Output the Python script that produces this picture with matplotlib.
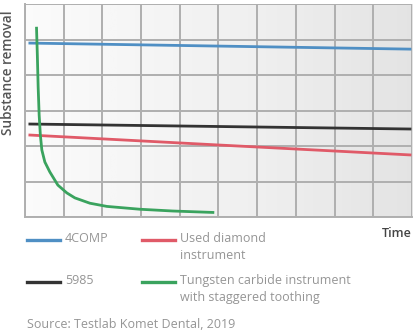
import numpy as np
import matplotlib.pyplot as plt
from matplotlib.lines import Line2D

plt.rcParams['font.family'] = ['Open Sans', 'DejaVu Sans']

# data (time in grid units 0..10, removal in grid units 0..6)
blue_x = [0.13, 9.95]
blue_y = [4.90, 4.73]
black_x = [0.13, 9.95]
black_y = [2.62, 2.48]
red_x = [0.13, 5.0, 9.95]
red_y = [2.31, 2.03, 1.75]
green_x = [0.302, 0.323, 0.344, 0.370, 0.401, 0.439, 0.517, 0.646, 0.853,
           1.085, 1.292, 1.680, 2.119, 2.972, 3.824, 4.858]
green_y = [5.32, 4.56, 3.66, 2.87, 2.31, 1.89, 1.55, 1.27, 0.90,
           0.68, 0.54, 0.39, 0.30, 0.22, 0.17, 0.13]

labels = ["4COMP", "5985", "Used diamond\ninstrument",
          "Tungsten carbide instrument\nwith staggered toothing"]
colors = ["#4f8fc4", "#333333", "#e05a68", "#3aa35e"]

fig = plt.figure(figsize=(4.14, 3.36), dpi=100)
ax = fig.add_axes([0.060, 0.354, 0.935, 0.634])

# light gradient background, white to grey
grad = np.linspace(0, 1, 256).reshape(1, -1)
ax.imshow(grad, extent=[0, 10, 0, 6], aspect='auto', cmap='Greys',
          vmin=-0.2, vmax=6, zorder=0)

ax.plot(blue_x, blue_y, color=colors[0], lw=2.0, zorder=3)
ax.plot(black_x, black_y, color=colors[1], lw=2.0, zorder=3)
ax.plot(red_x, red_y, color=colors[2], lw=2.0, zorder=3)
ax.plot(green_x, green_y, color=colors[3], lw=2.0, zorder=4,
        solid_joinstyle='round')

ax.set_xlim(0, 10)
ax.set_ylim(0, 6)
ax.set_xticks(range(11))
ax.set_yticks(range(7))
ax.grid(True, color="#afafaf", lw=1.4, zorder=1)
ax.tick_params(length=0, labelbottom=False, labelleft=False)
for s in ax.spines.values():
    s.set_visible(False)
for side in ['left', 'bottom']:
    ax.spines[side].set_visible(True)
    ax.spines[side].set_color("#afafaf")
    ax.spines[side].set_linewidth(1.4)
ax.set_axisbelow(True)

fig.text(0.020, 0.970, "Substance removal", rotation=90, ha='center', va='top',
         fontsize=9.8, fontweight='semibold', color="#555555")
fig.text(0.995, 0.305, "Time", ha='right', va='center',
         fontsize=9, fontweight='semibold', color="#444444")

# legend drawn by hand
W, H = 414, 336
pos = [(27, 240), (27, 282), (142, 240), (142, 282)]
for (px, py), lab, c in zip(pos, labels, colors):
    fig.add_artist(Line2D([px / W, (px + 33) / W], [1 - py / H, 1 - py / H],
                          color=c, lw=2.4))
    fig.text((px + 38) / W, 1 - (py - 8) / H, lab, ha='left', va='top',
             fontsize=9, color="#959595", linespacing=1.4)

fig.text(27 / W, 1 - 324 / H, "Source: Testlab Komet Dental, 2019",
         ha='left', va='center', fontsize=9, color="#959595")

fig.savefig("out.png", dpi=100)
